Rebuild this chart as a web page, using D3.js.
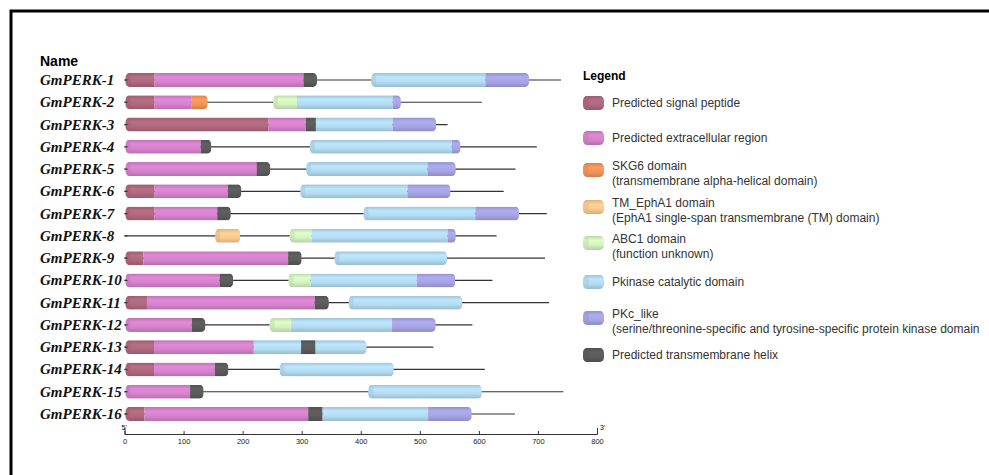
<!doctype html>
<html>
<head>
<meta charset="utf-8">
<style>
  body { margin: 0; background: #fff; }
  #chart { display: block; }
  .gene { font: italic bold 15px "Liberation Serif", "Times New Roman", serif; fill: #111; }
  .legtext { font: 12px "Liberation Sans", Arial, sans-serif; fill: #333; }
  .axis text { font: 7.5px "Liberation Sans", Arial, sans-serif; fill: #222; }
  .axis path, .axis line { stroke: #333; stroke-width: 1; }
</style>
</head>
<body>
<svg id="chart" width="989" height="475"></svg>
<script src="https://cdn.jsdelivr.net/npm/d3@7"></script>
<script>
// gene names, top to bottom
var genes = ["GmPERK-1", "GmPERK-2", "GmPERK-3", "GmPERK-4", "GmPERK-5", "GmPERK-6", "GmPERK-7", "GmPERK-8",
             "GmPERK-9", "GmPERK-10", "GmPERK-11", "GmPERK-12", "GmPERK-13", "GmPERK-14", "GmPERK-15", "GmPERK-16"];
// protein length (aa)
var proteinLength = [739, 605, 547, 698, 662, 642, 715, 630, 712, 623, 719, 589, 523, 610, 743, 661];

// domain positions [start, end] per gene, null = absent
var signalPeptide = [[0,51],[0,51],[0,244],null,null,[0,51],[0,51],null,[0,32],null,[0,38],null,[0,50],[0,50],null,[0,34]];
var extracellular = [[51,303],[51,114],[244,307],[0,129],[0,225],[51,175],[51,157],null,[32,277],[0,161],[38,322],[0,114],[50,219],[50,153],[0,111],[34,311]];
var skg6 = [null,[114,141],null,null,null,null,null,null,null,null,null,null,null,null,null,null];
var tmEphA1 = [null,null,null,null,null,null,null,[152,196],null,null,null,null,null,null,null,null];
var abc1 = [null,[250,292],null,null,null,null,null,[278,317],null,[276,315],null,[244,282],null,null,null,null];
var pkinase = [[416,611],[292,454],[324,454],[312,554],[306,513],[296,479],[403,594],[317,547],[354,546],[315,495],[378,572],[282,453],[219,410],[261,456],[411,605],[335,514]];
var pkcLike = [[611,685],[454,468],[454,528],[554,569],[513,561],[479,552],[594,668],[547,561],null,[495,560],null,[453,527],null,null,null,[514,588]];
var tmHelix = [[303,326],null,[307,324],[129,147],[224,247],[175,198],[157,180],null,[277,300],[161,184],[322,346],[114,137],[299,323],[153,176],[111,134],[311,335]];

var axisTicks = [0, 100, 200, 300, 400, 500, 600, 700, 800];

// domain types in drawing order
var domainTypes = [
  {key: "sig", data: signalPeptide, color: "#b0687f", label: ["Predicted signal peptide"]},
  {key: "ext", data: extracellular, color: "#d682cd", label: ["Predicted extracellular region"]},
  {key: "skg", data: skg6, color: "#f2945a", label: ["SKG6 domain", "(transmembrane alpha-helical domain)"]},
  {key: "eph", data: tmEphA1, color: "#fcc98f", label: ["TM_EphA1 domain", "(EphA1 single-span transmembrane (TM) domain)"]},
  {key: "abc", data: abc1, color: "#d3f2bf", label: ["ABC1 domain", "(function unknown)"]},
  {key: "pk", data: pkinase, color: "#b3dbf2", label: ["Pkinase catalytic domain"]},
  {key: "pkc", data: pkcLike, color: "#a6a4e4", label: ["PKc_like", "(serine/threonine-specific and tyrosine-specific protein kinase domain"]},
  {key: "tm", data: tmHelix, color: "#5b5b5b", label: ["Predicted transmembrane helix"]}
];

var svg = d3.select("#chart");
var defs = svg.append("defs");

// frame (top and left edges)
svg.append("path")
  .attr("d", "M11,480 V11 H995")
  .attr("fill", "none").attr("stroke", "#000").attr("stroke-width", 3);

var x = d3.scaleLinear().domain([0, 800]).range([124.5, 597]);
var y = d3.scalePoint().domain(genes).range([80, 414]);
var barH = 14;

// cylinder gradients
domainTypes.forEach(function(t) {
  var c = d3.color(t.color);
  var g = defs.append("linearGradient").attr("id", "g-" + t.key)
    .attr("x1", 0).attr("y1", 0).attr("x2", 0).attr("y2", 1);
  g.append("stop").attr("offset", "0%").attr("stop-color", c.darker(0.35));
  g.append("stop").attr("offset", "30%").attr("stop-color", c.brighter(0.15));
  g.append("stop").attr("offset", "65%").attr("stop-color", c);
  g.append("stop").attr("offset", "100%").attr("stop-color", c.darker(0.45));
});

svg.append("text")
  .attr("x", 40).attr("y", 66)
  .style("font", "bold 14px 'Liberation Sans', Arial, sans-serif")
  .text("Name");

var rows = svg.selectAll("g.row")
  .data(genes)
  .enter().append("g")
  .attr("class", "row")
  .attr("transform", function(d) { return "translate(0," + y(d) + ")"; });

rows.append("text")
  .attr("class", "gene")
  .attr("x", 40).attr("y", 5)
  .text(function(d) { return d; });

// backbone line
rows.append("line")
  .attr("x1", x(0))
  .attr("x2", function(d, i) { return x(proteinLength[i]); })
  .attr("stroke", "#333").attr("stroke-width", 1.2);

rows.each(function(name, i) {
  var row = d3.select(this);
  var segs = [];
  domainTypes.forEach(function(t) {
    if (t.data[i]) segs.push({key: t.key, color: t.color, s: t.data[i][0], e: t.data[i][1]});
  });
  // contiguous blocks
  var sorted = segs.slice().sort(function(a, b) { return a.s - b.s; });
  var blocks = [];
  sorted.forEach(function(s) {
    var last = blocks[blocks.length - 1];
    if (last && s.s <= last.e + 2) last.e = Math.max(last.e, s.e);
    else blocks.push({s: s.s, e: s.e, color: s.color});
  });
  var clip = defs.append("clipPath").attr("id", "clip-" + i);
  clip.selectAll("rect").data(blocks).enter().append("rect")
    .attr("x", function(b) { return x(b.s) + 1; })
    .attr("width", function(b) { return x(b.e) - x(b.s) - 1; })
    .attr("y", -barH / 2).attr("height", barH)
    .attr("rx", 4).attr("ry", 5);
  var g = row.append("g").attr("clip-path", "url(#clip-" + i + ")");
  g.selectAll("rect").data(segs).enter().append("rect")
    .attr("x", function(s) { return x(s.s); })
    .attr("width", function(s) { return x(s.e) - x(s.s); })
    .attr("y", -barH / 2).attr("height", barH)
    .attr("fill", function(s) { return "url(#g-" + s.key + ")"; });
  // left cap shading of each block
  g.selectAll("ellipse").data(blocks).enter().append("ellipse")
    .attr("cx", function(b) { return x(b.s) + 3.5; })
    .attr("rx", 2.5).attr("ry", barH / 2)
    .attr("fill", function(b) { return d3.color(b.color).darker(0.3); })
    .attr("opacity", 0.5);
  // small 5' dash
  row.append("line")
    .attr("x1", x(0)).attr("x2", x(0) + 3)
    .attr("stroke", "#333").attr("stroke-width", 1.2);
});

// axis
var axis = d3.axisBottom(x)
  .tickValues(axisTicks)
  .tickSizeInner(-3).tickSizeOuter(-6)
  .tickPadding(5);
var ax = svg.append("g").attr("class", "axis")
  .attr("transform", "translate(0,434)")
  .call(axis);
ax.selectAll(".tick text").attr("y", 5);

svg.append("text").attr("x", x(0) - 3).attr("y", 430)
  .style("font", "7px 'Liberation Sans', Arial, sans-serif").text("5'");
svg.append("text").attr("x", x(800) + 3).attr("y", 430)
  .style("font", "7px 'Liberation Sans', Arial, sans-serif").text("3'");

// legend
svg.append("text")
  .attr("x", 583).attr("y", 80)
  .style("font", "bold 12px 'Liberation Sans', Arial, sans-serif")
  .text("Legend");

var legendY = [103, 138, 170, 207, 243, 282, 318, 355];
var leg = svg.selectAll("g.leg")
  .data(domainTypes)
  .enter().append("g")
  .attr("class", "leg")
  .attr("transform", function(d, i) { return "translate(583," + legendY[i] + ")"; });

leg.append("rect")
  .attr("x", 0).attr("y", -7).attr("width", 21).attr("height", 14)
  .attr("rx", 4).attr("ry", 5)
  .attr("fill", function(d) { return "url(#g-" + d.key + ")"; });
leg.append("ellipse")
  .attr("cx", 3).attr("rx", 3).attr("ry", 7)
  .attr("fill", function(d) { return d3.color(d.color).darker(0.25); })
  .attr("opacity", 0.5);

leg.each(function(d) {
  var t = d3.select(this).append("text").attr("class", "legtext");
  var n = d.label.length;
  d.label.forEach(function(line, j) {
    t.append("tspan")
      .attr("x", 29)
      .attr("y", n === 1 ? 4 : (j === 0 ? 0 : 15))
      .text(line);
  });
});
</script>
</body>
</html>
